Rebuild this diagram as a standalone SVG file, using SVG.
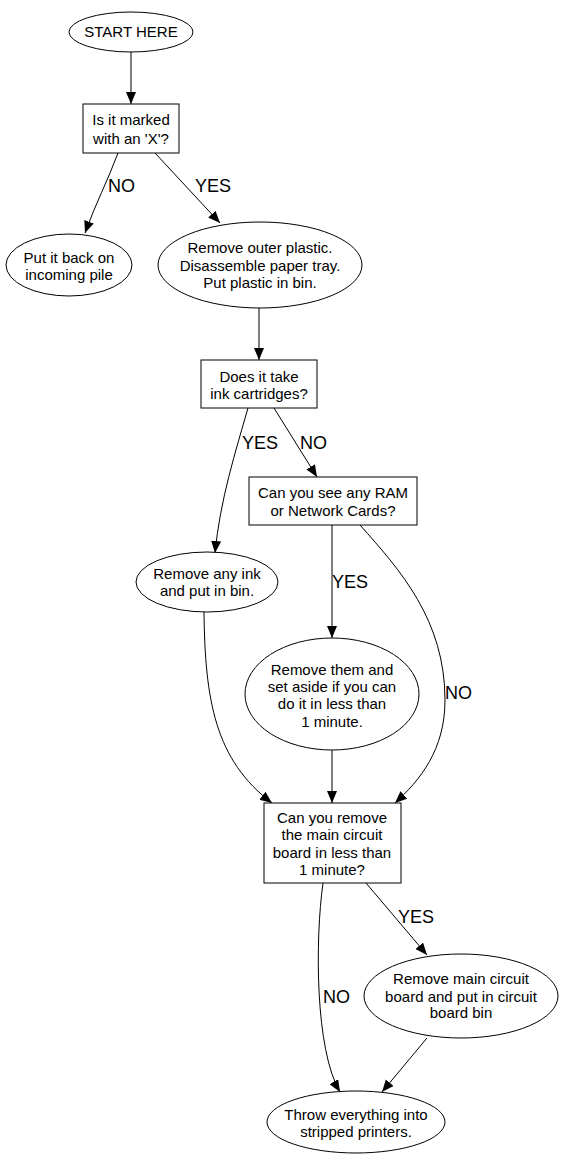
<svg xmlns="http://www.w3.org/2000/svg" width="564" height="1160" viewBox="0 0 564 1160">
<style>
.n{fill:#fff;stroke:#000;stroke-width:1}
.t{font-family:"Liberation Sans",Arial,sans-serif;font-size:15px;text-anchor:middle;fill:#000}
.l{font-family:"Liberation Sans",Arial,sans-serif;font-size:18px;fill:#000}
.e{fill:none;stroke:#000;stroke-width:1;marker-end:url(#a)}
</style>
<defs>
<marker id="a" markerUnits="userSpaceOnUse" markerWidth="13" markerHeight="11" refX="12" refY="5" orient="auto">
<path d="M0,0 L12,5 L0,10 z" fill="#000"/>
</marker>
</defs>
<rect width="564" height="1160" fill="#fff"/>
<g id="connectors">
<path class="e" d="M131,52 L131,104"/>
<path class="e" d="M118,153 C108,180 95,205 85,233"/>
<path class="e" d="M155,153 L220,223"/>
<path class="e" d="M259,308 L259,360"/>
<path class="e" d="M248,408 C236,450 220,500 215,553"/>
<path class="e" d="M274,408 L317,477"/>
<path class="e" d="M332,525 L332,638"/>
<path class="e" d="M360,525 C400,570 445,620 445,700 C445,750 420,780 395,803"/>
<path class="e" d="M332,750 L332,803"/>
<path class="e" d="M204,612 C205,700 215,760 272,803"/>
<path class="e" d="M366,883 L427,955"/>
<path class="e" d="M323,883 C315,940 315,1050 340,1092"/>
<path class="e" d="M427,1038 L382,1092"/>
<text class="l" x="108" y="192">NO</text>
<text class="l" x="195" y="192">YES</text>
<text class="l" x="242" y="449">YES</text>
<text class="l" x="300" y="449">NO</text>
<text class="l" x="332" y="588">YES</text>
<text class="l" x="445" y="699">NO</text>
<text class="l" x="398" y="923">YES</text>
<text class="l" x="323" y="1003">NO</text>
</g>
<g id="start">
<ellipse class="n" cx="131" cy="32" rx="62" ry="20"/>
<text class="t" x="131" y="37">START HERE</text>
</g>
<g id="q1">
<rect class="n" x="83" y="104" width="96" height="49"/>
<text class="t" x="131" y="125">Is it marked</text>
<text class="t" x="131" y="144">with an 'X'?</text>
</g>
<g id="putback">
<ellipse class="n" cx="69" cy="265" rx="63" ry="31"/>
<text class="t" x="69" y="263">Put it back on</text>
<text class="t" x="69" y="280">incoming pile</text>
</g>
<g id="removeplastic">
<ellipse class="n" cx="260" cy="265" rx="102" ry="43"/>
<text class="t" x="260" y="253">Remove outer plastic.</text>
<text class="t" x="260" y="271">Disassemble paper tray.</text>
<text class="t" x="260" y="288">Put plastic in bin.</text>
</g>
<g id="q2">
<rect class="n" x="201" y="360" width="116" height="48"/>
<text class="t" x="259" y="382">Does it take</text>
<text class="t" x="259" y="399">ink cartridges?</text>
</g>
<g id="q3">
<rect class="n" x="249" y="477" width="168" height="48"/>
<text class="t" x="333" y="498">Can you see any RAM</text>
<text class="t" x="333" y="516">or Network Cards?</text>
</g>
<g id="removeink">
<ellipse class="n" cx="207" cy="582" rx="71" ry="30"/>
<text class="t" x="207" y="579">Remove any ink</text>
<text class="t" x="207" y="596">and put in bin.</text>
</g>
<g id="removethem">
<ellipse class="n" cx="332" cy="694" rx="87" ry="56"/>
<text class="t" x="332" y="675">Remove them and</text>
<text class="t" x="332" y="692">set aside if you can</text>
<text class="t" x="332" y="709">do it in less than</text>
<text class="t" x="332" y="727">1 minute.</text>
</g>
<g id="q4">
<rect class="n" x="264" y="803" width="137" height="80"/>
<text class="t" x="332" y="823">Can you remove</text>
<text class="t" x="332" y="840">the main circuit</text>
<text class="t" x="332" y="858">board in less than</text>
<text class="t" x="332" y="875">1 minute?</text>
</g>
<g id="removeboard">
<ellipse class="n" cx="461" cy="996" rx="97" ry="42"/>
<text class="t" x="461" y="984">Remove main circuit</text>
<text class="t" x="461" y="1002">board and put in circuit</text>
<text class="t" x="461" y="1018">board bin</text>
</g>
<g id="throw">
<ellipse class="n" cx="356" cy="1122" rx="89" ry="31"/>
<text class="t" x="356" y="1120">Throw everything into</text>
<text class="t" x="356" y="1137">stripped printers.</text>
</g>
</svg>
